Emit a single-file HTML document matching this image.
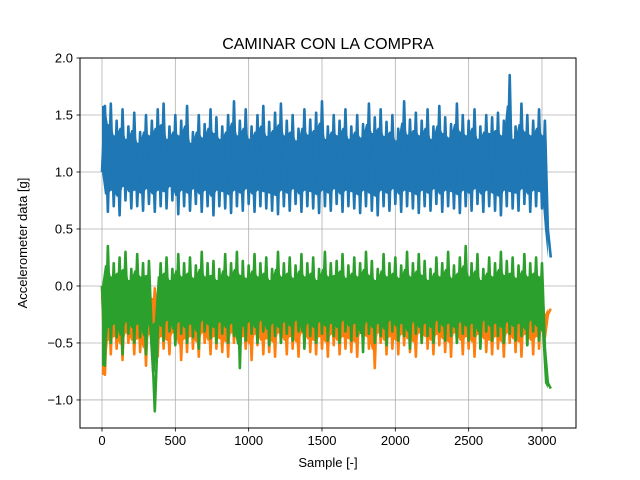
<!DOCTYPE html>
<html><head><meta charset="utf-8">
<style>
html,body{margin:0;padding:0;background:#fff;}
svg{display:block;font-family:"Liberation Sans","DejaVu Sans",sans-serif;}
</style></head>
<body>
<svg id="chart" width="640" height="480" xmlns="http://www.w3.org/2000/svg">
<rect width="640" height="480" fill="#fff"/>
<text x="328" y="49" font-size="16" text-anchor="middle" fill="#000">CAMINAR CON LA COMPRA</text>
<text x="328" y="467" font-size="13" text-anchor="middle" fill="#000">Sample [-]</text>
<text transform="translate(27,243) rotate(-90)" font-size="13" text-anchor="middle" fill="#000">Accelerometer data [g]</text>
<g id="grid"></g>
<g id="series"></g>
<rect x="80" y="58" width="496" height="370" fill="none" stroke="#000" stroke-width="1"/>
<g id="ticks"></g>
</svg>
<script>
const sampleStep = 20;
const xTicks = [0,500,1000,1500,2000,2500,3000];
const xTickLabels = ["0","500","1000","1500","2000","2500","3000"];
const yTicks = [-1.0,-0.5,0.0,0.5,1.0,1.5,2.0];
const yTickLabels = ["−1.0","−0.5","0.0","0.5","1.0","1.5","2.0"];
const seriesNames = ["accel-x","accel-y","accel-z"];
const blueValues = [1.0,1.58,0.65,1.6,0.7,1.45,0.62,1.55,0.75,1.4,0.68,1.52,0.7,1.35,0.66,1.5,0.72,1.45,0.65,1.55,
0.7,1.6,0.68,1.4,0.75,1.5,0.63,1.45,0.7,1.58,0.66,1.35,0.72,1.5,0.65,1.42,0.7,1.55,0.62,1.48,
0.7,1.4,0.68,1.5,0.64,1.62,0.7,1.45,0.66,1.55,0.72,1.4,0.65,1.5,0.7,1.58,0.68,1.44,0.66,1.52,
0.63,1.6,0.7,1.45,0.66,1.5,0.72,1.38,0.65,1.55,0.7,1.46,0.68,1.52,0.64,1.62,0.7,1.4,0.66,1.5,
0.72,1.45,0.65,1.55,0.7,1.4,0.68,1.5,0.64,1.42,0.7,1.6,0.66,1.48,0.62,1.55,0.7,1.44,0.66,1.5,
0.72,1.38,0.65,1.62,0.7,1.46,0.68,1.52,0.64,1.45,0.7,1.55,0.66,1.4,0.72,1.58,0.65,1.48,0.7,1.42,
0.68,1.6,0.64,1.5,0.7,1.45,0.66,1.55,0.72,1.4,0.65,1.5,0.7,1.48,0.66,1.52,0.62,1.45,0.7,1.85,
0.68,1.4,0.66,1.6,0.72,1.5,0.65,1.45,0.7,1.55,0.68,1.45,0.5,0.25];
const orangeValues = [0,-0.78,0.05,-0.6,0.1,-0.55,0.0,-0.65,0.08,-0.5,-0.05,-0.6,0.1,-0.58,0.0,-0.7,0.05,-0.52,-0.02,-0.62,
0.08,-0.55,0.0,-0.6,0.1,-0.5,-0.05,-0.65,0.05,-0.58,0.12,-0.55,0.0,-0.62,0.08,-0.5,0.02,-0.6,0.1,-0.55,
0.0,-0.58,0.08,-0.62,0.05,-0.5,0.1,-0.6,0.0,-0.55,0.06,-0.65,0.02,-0.52,0.1,-0.6,0.04,-0.58,0.0,-0.62,
0.08,-0.5,0.05,-0.6,0.1,-0.55,0.0,-0.62,0.06,-0.5,0.1,-0.58,0.02,-0.6,0.08,-0.55,0.0,-0.62,0.05,-0.52,
0.1,-0.6,0.04,-0.55,0.0,-0.58,0.08,-0.62,0.05,-0.5,0.1,-0.55,0.0,-0.72,0.06,-0.5,0.1,-0.6,0.02,-0.55,
0.08,-0.6,0.04,-0.52,0.1,-0.58,0.0,-0.62,0.06,-0.5,0.1,-0.55,0.02,-0.6,0.08,-0.52,0.0,-0.58,0.05,-0.62,
0.1,-0.5,0.04,-0.6,0.0,-0.55,0.08,-0.62,0.05,-0.52,0.1,-0.58,0.0,-0.6,0.06,-0.55,0.02,-0.62,0.08,-0.5,
0.04,-0.58,0.1,-0.62,0.0,-0.52,0.06,-0.6,0.1,-0.55,0.02,-0.45,-0.25,-0.2];
const greenValues = [0,-0.7,0.35,-0.5,0.2,-0.45,0.25,-0.6,0.3,-0.42,0.15,-0.5,0.28,-0.45,0.2,-0.6,0.22,-0.45,-1.1,-0.42,
0.2,-0.48,0.25,-0.4,0.15,-0.52,0.28,-0.42,0.2,-0.5,0.25,-0.45,0.18,-0.55,0.3,-0.4,0.2,-0.46,0.22,-0.5,
0.15,-0.42,0.28,-0.5,0.2,-0.44,0.3,-0.72,0.22,-0.48,0.18,-0.42,0.28,-0.5,0.2,-0.4,0.25,-0.52,0.15,-0.44,
0.3,-0.5,0.2,-0.42,0.25,-0.48,0.18,-0.4,0.28,-0.55,0.2,-0.44,0.25,-0.5,0.15,-0.42,0.3,-0.48,0.2,-0.44,
0.22,-0.5,0.28,-0.4,0.18,-0.48,0.25,-0.44,0.2,-0.58,0.3,-0.42,0.22,-0.5,0.15,-0.44,0.28,-0.52,0.2,-0.4,
0.25,-0.48,0.18,-0.44,0.3,-0.55,0.2,-0.42,0.28,-0.5,0.22,-0.44,0.15,-0.5,0.25,-0.4,0.2,-0.48,0.3,-0.44,
0.18,-0.5,0.25,-0.42,0.35,-0.48,0.2,-0.44,0.28,-0.55,0.15,-0.4,0.25,-0.48,0.2,-0.44,0.3,-0.5,0.22,-0.42,
0.25,-0.48,0.18,-0.44,0.28,-0.52,0.2,-0.4,0.25,-0.48,0.2,-0.55,-0.85,-0.9];

const X0=80,X1=576,Y0=58,Y1=428;
const xMin=-150,xMax=3232,yMin=-1.246,yMax=2.0;
function xs(v){return X0+(v-xMin)/(xMax-xMin)*(X1-X0);}
function ys(v){return Y1-(v-yMin)/(yMax-yMin)*(Y1-Y0);}
const NS="http://www.w3.org/2000/svg";
function mk(tag,attrs,parent){const e=document.createElementNS(NS,tag);for(const k in attrs)e.setAttribute(k,attrs[k]);parent.appendChild(e);return e;}
const grid=document.getElementById('grid'),ticks=document.getElementById('ticks'),series=document.getElementById('series');
xTicks.forEach((t,i)=>{
  const x=xs(t);
  const g=mk('line',{x1:x,x2:x,y1:Y0,y2:Y1,stroke:'#b0b0b0','stroke-width':0.8},grid);
  
  
  const tk=mk('line',{x1:x,x2:x,y1:Y1,y2:Y1+3.5,stroke:'#000','stroke-width':0.8},ticks);
  
  
  const tl=mk('text',{x:x,y:Y1+17,'font-size':13,'text-anchor':'middle',fill:'#000'},ticks);
  tl.textContent=xTickLabels[i];
  
  
});
yTicks.forEach((t,i)=>{
  const y=ys(t);
  const g=mk('line',{x1:X0,x2:X1,y1:y,y2:y,stroke:'#b0b0b0','stroke-width':0.8},grid);
  
  
  const tk=mk('line',{x1:X0-3.5,x2:X0,y1:y,y2:y,stroke:'#000','stroke-width':0.8},ticks);
  
  
  const tl=mk('text',{x:X0-7,y:y+4.5,'font-size':13,'text-anchor':'end',fill:'#000'},ticks);
  tl.textContent=yTickLabels[i];
  
  
});
[[blueValues,'#1f77b4'],[orangeValues,'#ff7f0e'],[greenValues,'#2ca02c']].forEach((s,k)=>{
  const vals=s[0];
  const n=vals.length;
  const mean=vals.slice(2,n-2).reduce((a,b)=>a+b,0)/(n-4);
  // dense core band: each value pulled toward the series mean
  const core=vals.map((v,i)=>(i<2||i>=n-2)?v:mean+(v-mean)*0.65);
  const up=[],lo=[];
  for(let i=0;i<n-1;i++){
    const a=core[i],b=core[i+1];
    up.push([xs(i*sampleStep),Math.max(a,b)]);
    lo.push([xs(i*sampleStep),Math.min(a,b)]);
  }
  const bd='M'+up.map(p=>p[0].toFixed(2)+','+ys(p[1]).toFixed(2)).join(' L')+' L'+lo.reverse().map(p=>p[0].toFixed(2)+','+ys(p[1]).toFixed(2)).join(' L')+'Z';
  const band=mk('path',{d:bd,fill:s[1],stroke:'none'},series);
  
  
  const d=vals.map((v,i)=>(i?'L':'M')+xs(i*sampleStep).toFixed(2)+','+ys(v).toFixed(2)).join(' ');
  const p=mk('path',{d:d,fill:'none',stroke:s[1],'stroke-width':2.6,'stroke-linejoin':'round'},series);
  
  
});
</script>
</body></html>
